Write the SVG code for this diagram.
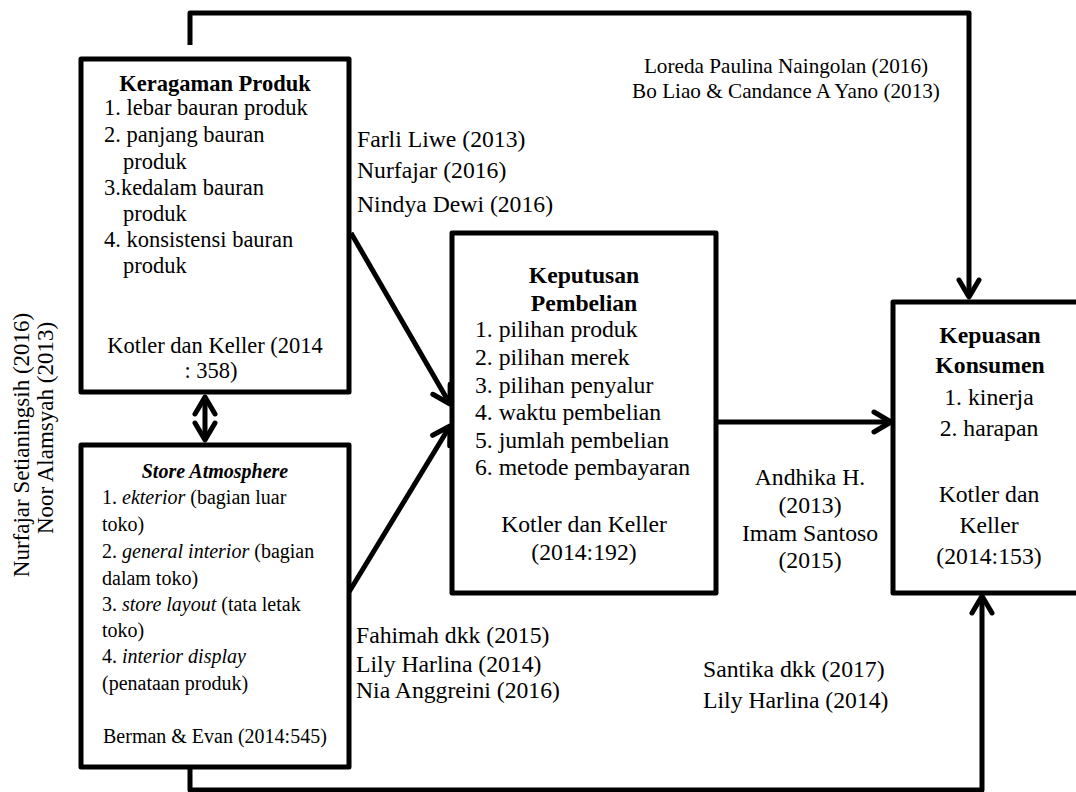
<svg xmlns="http://www.w3.org/2000/svg" width="1076" height="792" viewBox="0 0 1076 792">
<style>
  text { font-family: "Liberation Serif", "Times New Roman", serif; fill: #000; }
  .box { fill: #fff; stroke: #000; stroke-width: 5; stroke-linejoin: round; }
  .conn { fill: none; stroke: #000; stroke-width: 5; stroke-linejoin: round; }
  .b { font-weight: bold; }
  .i { font-style: italic; }
  .f225 { font-size: 22.5px; }
  .f20 { font-size: 20px; }
  .f237 { font-size: 23.7px; }
  .f212 { font-size: 21.2px; }
  .f23 { font-size: 23px; }
  .mid { text-anchor: middle; }
</style>
<defs>
  <marker id="chev" markerUnits="userSpaceOnUse" viewBox="-24 -16 30 32" refX="0" refY="0" markerWidth="30" markerHeight="32" orient="auto-start-reverse">
    <path d="M -17 -10 L 0 0 L -17 10" fill="none" stroke="#000" stroke-width="5" stroke-linecap="round" stroke-linejoin="round"/>
  </marker>
</defs>
<rect width="1076" height="792" fill="#fff"/>

<g id="connectors">
  <polyline class="conn" points="190,45 190,13 969,13 969,297" marker-end="url(#chev)"/>
  <polyline class="conn" points="190,767 190,790 982,790 982,596" marker-end="url(#chev)"/>
  <line class="conn" x1="716" y1="422" x2="891" y2="422" marker-end="url(#chev)"/>
  <line class="conn" x1="351" y1="233" x2="450" y2="404" marker-end="url(#chev)"/>
  <line class="conn" x1="349" y1="592" x2="450" y2="426" marker-end="url(#chev)"/>
  <line class="conn" x1="205" y1="397" x2="205" y2="440" marker-start="url(#chev)" marker-end="url(#chev)"/>
</g>

<g id="keragaman-produk">
  <rect class="box" x="81" y="59" width="268" height="333"/>
  <text class="b f225 mid" x="215" y="91">Keragaman Produk</text>
  <text class="f225" x="104" y="115">1. lebar bauran produk</text>
  <text class="f225" x="104" y="142">2. panjang bauran</text>
  <text class="f225" x="123" y="169">produk</text>
  <text class="f225" x="104" y="195">3.kedalam bauran</text>
  <text class="f225" x="123" y="221">produk</text>
  <text class="f225" x="104" y="247">4. konsistensi bauran</text>
  <text class="f225" x="123" y="273">produk</text>
  <text class="f225 mid" x="215" y="353">Kotler dan Keller (2014</text>
  <text class="f225 mid" x="211" y="378">: 358)</text>
</g>

<g id="store-atmosphere">
  <rect class="box" x="81" y="445" width="268" height="322"/>
  <text class="b i f20 mid" x="215" y="478">Store Atmosphere</text>
  <text class="f20" x="102" y="504">1. <tspan class="i">ekterior</tspan> (bagian luar</text>
  <text class="f20" x="102" y="531">toko)</text>
  <text class="f20" x="102" y="558">2. <tspan class="i">general interior</tspan> (bagian</text>
  <text class="f20" x="102" y="585">dalam toko)</text>
  <text class="f20" x="102" y="611">3. <tspan class="i">store layout</tspan> (tata letak</text>
  <text class="f20" x="102" y="637">toko)</text>
  <text class="f20" x="102" y="663">4. <tspan class="i">interior display</tspan></text>
  <text class="f20" x="102" y="690">(penataan produk)</text>
  <text class="f20" x="103" y="743">Berman &amp; Evan (2014:545)</text>
</g>

<g id="keputusan-pembelian">
  <rect class="box" x="452" y="233" width="264" height="360"/>
  <text class="b f237 mid" x="584" y="283">Keputusan</text>
  <text class="b f237 mid" x="584" y="311">Pembelian</text>
  <text class="f237" x="475" y="337">1. pilihan produk</text>
  <text class="f237" x="475" y="365">2. pilihan merek</text>
  <text class="f237" x="475" y="393">3. pilihan penyalur</text>
  <text class="f237" x="475" y="420">4. waktu pembelian</text>
  <text class="f237" x="475" y="448">5. jumlah pembelian</text>
  <text class="f237" x="475" y="475">6. metode pembayaran</text>
  <text class="f237 mid" x="584" y="532">Kotler dan Keller</text>
  <text class="f237 mid" x="584" y="560">(2014:192)</text>
</g>

<g id="kepuasan-konsumen">
  <rect class="box" x="893" y="302" width="194" height="291"/>
  <text class="b f237 mid" x="990" y="343">Kepuasan</text>
  <text class="b f237 mid" x="990" y="373">Konsumen</text>
  <text class="f237 mid" x="989" y="405">1. kinerja</text>
  <text class="f237 mid" x="989" y="436">2. harapan</text>
  <text class="f237 mid" x="989" y="502">Kotler dan</text>
  <text class="f237 mid" x="989" y="533">Keller</text>
  <text class="f237 mid" x="989" y="564">(2014:153)</text>
</g>

<g id="labels">
  <text class="f212 mid" x="786" y="73">Loreda Paulina Naingolan (2016)</text>
  <text class="f212 mid" x="786" y="98">Bo Liao &amp; Candance A Yano (2013)</text>
  <text class="f237" x="357" y="147">Farli Liwe (2013)</text>
  <text class="f237" x="357" y="178">Nurfajar (2016)</text>
  <text class="f237" x="357" y="212">Nindya Dewi (2016)</text>
  <text class="f237" x="356" y="643">Fahimah dkk (2015)</text>
  <text class="f237" x="356" y="672">Lily Harlina (2014)</text>
  <text class="f237" x="356" y="698">Nia Anggreini (2016)</text>
  <text class="f237 mid" x="810" y="485">Andhika H.</text>
  <text class="f237 mid" x="810" y="513">(2013)</text>
  <text class="f237 mid" x="810" y="541">Imam Santoso</text>
  <text class="f237 mid" x="810" y="568">(2015)</text>
  <text class="f237" x="703" y="677">Santika dkk (2017)</text>
  <text class="f237" x="703" y="708">Lily Harlina (2014)</text>
  <text class="f23 mid" transform="translate(29,445) rotate(-90)">Nurfajar Setianingsih (2016)</text>
  <text class="f23 mid" transform="translate(53,428) rotate(-90)">Noor Alamsyah (2013)</text>
</g>
</svg>
